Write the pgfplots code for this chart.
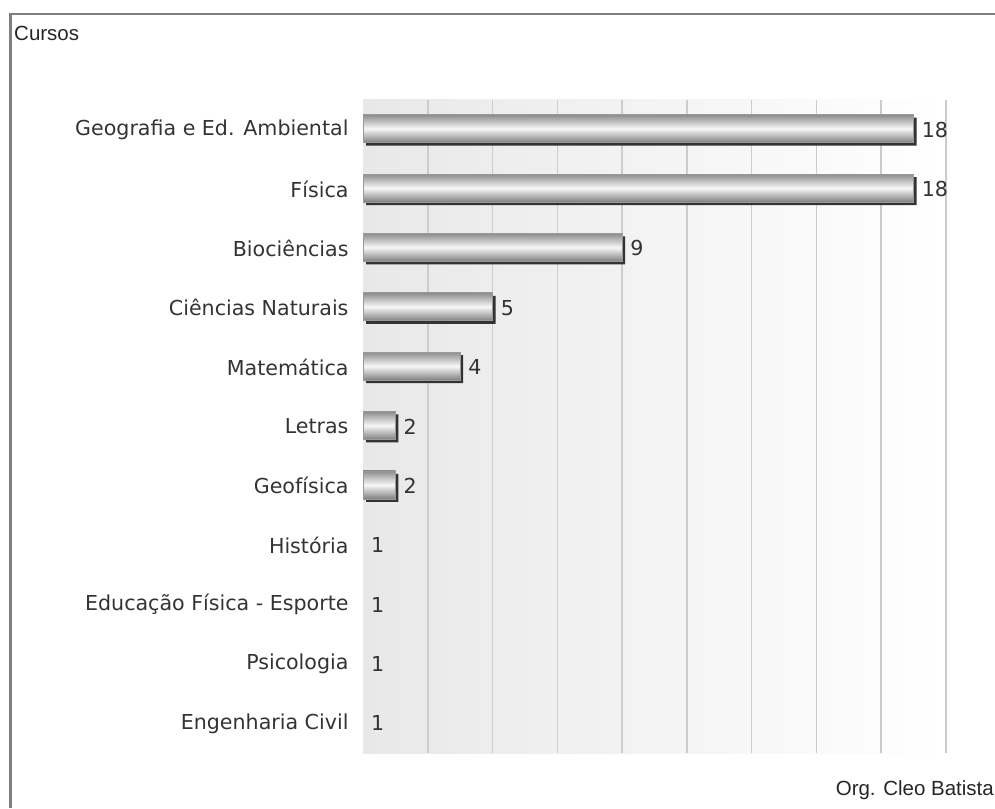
\documentclass[border=0pt]{standalone}
\usepackage{fontspec}
\setmainfont{DejaVu Sans}
\newfontfamily\arialfont{Liberation Sans}
\usepackage{pgfplots}
\usepackage{pgfplotstable}
\pgfplotsset{compat=1.18}

\pgfplotstableread{
idx value
10 18
9 18
8 9
7 5
6 4
5 2
4 2
}\bartable

\pgfplotstableread{
idx value
10 18
9 18
8 9
7 5
6 4
5 2
4 2
3 1
2 1
1 1
0 1
}\datatable

\pgfplotsset{
  mybar/.style={xbar, bar width=28pt, bar shift=1pt, draw=black!40, line width=0.6pt,
    top color=black!45, bottom color=black!50, middle color=black!3},
}

\begin{document}
\begin{tikzpicture}
\path[use as bounding box] (0pt,0pt) rectangle (995pt,808pt);
\draw[black!50, line width=2.5pt] (10.5pt,0pt) -- (10.5pt,794pt) -- (995pt,794pt);
\node[anchor=west, inner sep=0pt, font=\arialfont\fontsize{20.5}{24}\selectfont, text=black!85] at (14pt,775pt) {Cursos};
\node[anchor=east, inner sep=0pt, font=\arialfont\fontsize{20.5}{24}\selectfont, text=black!85] at (994pt,18pt) {Org. Cleo Batista};
\begin{axis}[
  at={(363pt,55pt)}, anchor=south west,
  scale only axis, width=583pt, height=653pt,
  xmin=1, xmax=19, ymin=-0.5, ymax=10.5,
  /pgf/number format/assume math mode=true,
  axis background/.style={left color=black!9, right color=white},
  xtick={3,5,...,19}, xticklabels={},
  xmajorgrids, grid style={black!20, line width=1.5pt},
  ytick={0,...,10},
  yticklabels={Engenharia Civil, Psicologia, Educação Física - Esporte, História, Geofísica, Letras, Matemática, Ciências Naturais, Biociências, Física, Geografia e Ed. Ambiental},
  yticklabel style={font=\fontsize{20.6}{24}\selectfont, text=black!80, xshift=-11pt},
  major tick length=0pt,
  axis line style={draw=none},
]
% shadows
\addplot[xbar, bar width=28pt, bar shift=-2pt, fill=black!80, draw=none, xshift=3pt]
  table[x=value, y=idx] {\bartable};
% bars, one path each so that each gets its own shading
\addplot[mybar] coordinates {(18,10)};
\addplot[mybar] coordinates {(18,9)};
\addplot[mybar] coordinates {(9,8)};
\addplot[mybar] coordinates {(5,7)};
\addplot[mybar] coordinates {(4,6)};
\addplot[mybar] coordinates {(2,5)};
\addplot[mybar] coordinates {(2,4)};
% value labels
\addplot[only marks, mark=*, mark size=0pt, mark options={draw=none, fill=none},
  point meta=x, nodes near coords,
  every node near coord/.append style={anchor=west, inner sep=1pt, xshift=7pt,
    font=\fontsize{20.6}{24}\selectfont, text=black!80}]
  table[x=value, y=idx] {\datatable};
\end{axis}
\end{tikzpicture}
\end{document}
